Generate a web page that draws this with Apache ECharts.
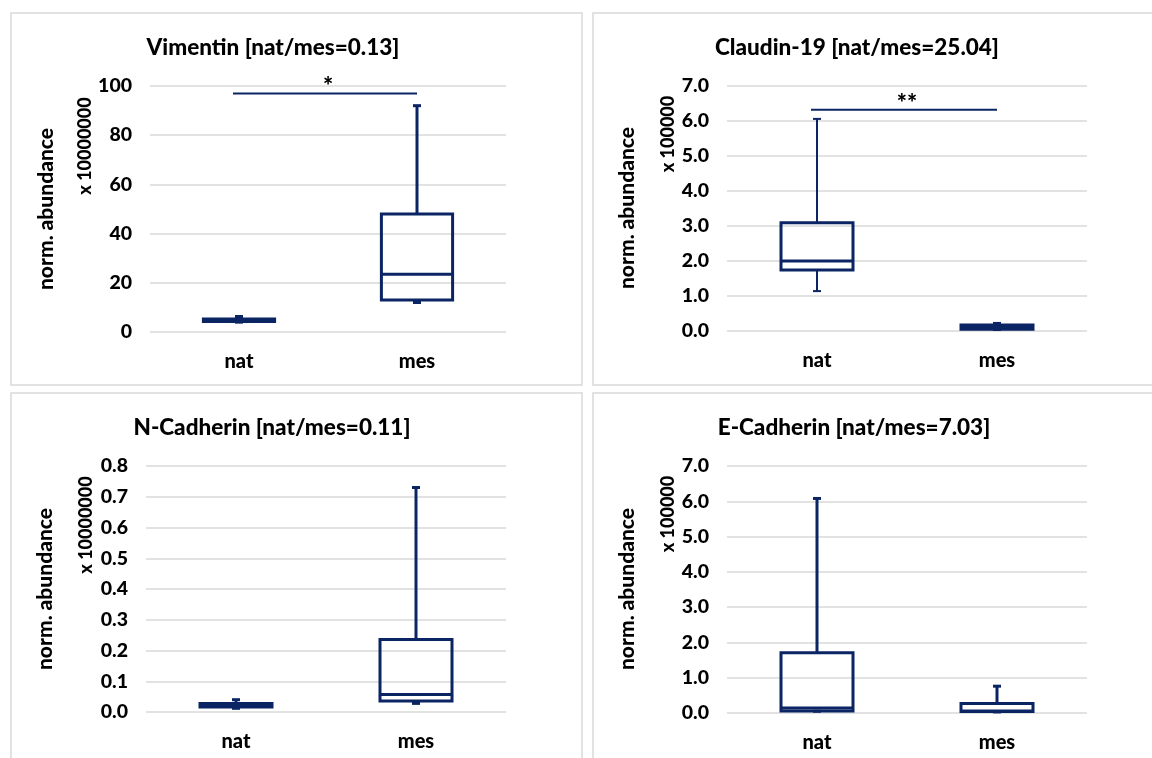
<!DOCTYPE html>
<html>
<head>
<meta charset="utf-8">
<script src="https://cdn.jsdelivr.net/npm/echarts@6/dist/echarts.min.js"></script>
<style>html,body{margin:0;padding:0;background:#fff}#c{width:1152px;height:758px}</style>
</head>
<body>
<div id="c"></div>
<script>
// ---- data ----
const categories = ['nat', 'mes'];
const titles = ['Vimentin [nat/mes=0.13]', 'Claudin-19 [nat/mes=25.04]', 'N-Cadherin [nat/mes=0.11]', 'E-Cadherin [nat/mes=7.03]'];
// [min, Q1, median, Q3, max] per category
const vimentin  = [[4.0, 4.3, 4.8, 5.3, 6.3], [12, 13, 23.5, 48, 92]];
const claudin19 = [[1.14, 1.74, 2.0, 3.09, 6.06], [0.03, 0.05, 0.10, 0.17, 0.23]];
const nCadherin = [[0.012, 0.016, 0.022, 0.028, 0.040], [0.028, 0.036, 0.057, 0.236, 0.73]];
const eCadherin = [[0.05, 0.06, 0.14, 1.71, 6.08], [0.03, 0.04, 0.06, 0.27, 0.76]];
const yMax = [100, 7, 0.8, 7];
const yInterval = [20, 1, 0.1, 1];
const yDecimals = [0, 1, 1, 1];
const yScaleLabels = ['x 10000000', 'x 100000', 'x 10000000', 'x 100000'];
const yNameLabel = 'norm. abundance';
// significance bars: [panel, y value, label]
const significance = [[0, 97, '*'], [1, 6.32, '**']];

// ---- layout / style ----
const COLOR = '#0b2463';
const FONT = 'Lato, Carlito, "Open Sans", sans-serif';
const W = 900;
const panels = [vimentin, claudin19, nCadherin, eCadherin];
const grids = [
  {left: 150, top: 86, width: 356, height: 246},
  {left: 727, top: 86, width: 360, height: 245},
  {left: 146, top: 466, width: 360, height: 246},
  {left: 727, top: 466, width: 360, height: 247}
];
const titlePos = [[268, 31], [852, 31], [267, 411], [849, 411]];
const namePos = [
  {n: [46, 209], s: [85, 146]},
  {n: [627, 208], s: [668, 134]},
  {n: [45, 589], s: [86, 525]},
  {n: [627, 589], s: [668, 514]}
];
const whiskerW = [3, 2, 3, 3];
const frames = [[11, 13, 571, 372], [593, 13, 570, 372], [11, 393, 571, 372], [593, 393, 570, 372]];

function boxRender(lw) {
  return function (params, api) {
    const i = api.value(0);
    const lo = api.coord([i, api.value(1)]);
    const q1 = api.coord([i, api.value(2)]);
    const md = api.coord([i, api.value(3)]);
    const q3 = api.coord([i, api.value(4)]);
    const hi = api.coord([i, api.value(5)]);
    const bw = api.size([1, 0])[0] * 0.4;
    const cx = lo[0];
    const cap = 4;
    const ls = {stroke: COLOR, lineWidth: lw, fill: null};
    const bs = {stroke: COLOR, lineWidth: 3, fill: null};
    return {
      type: 'group',
      children: [
        {type: 'line', shape: {x1: cx, y1: q3[1], x2: cx, y2: hi[1]}, style: ls},
        {type: 'line', shape: {x1: cx - cap, y1: hi[1], x2: cx + cap, y2: hi[1]}, style: ls},
        {type: 'line', shape: {x1: cx, y1: q1[1], x2: cx, y2: lo[1]}, style: ls},
        {type: 'line', shape: {x1: cx - cap, y1: lo[1], x2: cx + cap, y2: lo[1]}, style: ls},
        {type: 'rect', shape: {x: cx - bw / 2, y: q3[1], width: bw, height: q1[1] - q3[1]}, style: bs},
        {type: 'line', shape: {x1: cx - bw / 2, y1: md[1], x2: cx + bw / 2, y2: md[1]}, style: bs}
      ]
    };
  };
}

function sigRender(params, api) {
  const y = api.value(1);
  const a = api.coord([0, y]);
  const b = api.coord([1, y]);
  return {
    type: 'group',
    children: [
      {type: 'line', shape: {x1: a[0] - 6, y1: a[1], x2: b[0], y2: b[1]}, style: {stroke: COLOR, lineWidth: 2}},
      {type: 'text', x: (a[0] + b[0]) / 2, y: a[1] - 6, style: {text: api.value(2), fill: '#000', font: W + ' 24px ' + FONT, align: 'center', verticalAlign: 'middle'}}
    ]
  };
}

const option = {
  backgroundColor: '#fff',
  animation: false,
  title: titles.map((t, k) => ({
    text: t, left: titlePos[k][0], top: titlePos[k][1], textAlign: 'center',
    textStyle: {fontFamily: FONT, fontWeight: W, fontSize: 22.5, color: '#000'}
  })),
  grid: grids,
  xAxis: grids.map((g, k) => ({
    type: 'category', gridIndex: k, data: categories,
    axisLine: {show: false}, axisTick: {show: false},
    axisLabel: {fontFamily: FONT, fontWeight: W, fontSize: 20, color: '#000', margin: 20}
  })),
  yAxis: grids.map((g, k) => ({
    type: 'value', gridIndex: k, min: 0, max: yMax[k], interval: yInterval[k],
    axisLine: {show: false}, axisTick: {show: false},
    splitLine: {lineStyle: {color: '#d9d9d9', width: 1.5}},
    axisLabel: {fontFamily: FONT, fontWeight: W, fontSize: 19.5, color: '#000', margin: 18,
      formatter: v => v.toFixed(yDecimals[k])}
  })),
  series: panels.map((p, k) => ({
    type: 'custom', xAxisIndex: k, yAxisIndex: k,
    renderItem: boxRender(whiskerW[k]),
    data: p.map((d, i) => [i].concat(d)),
    z: 3
  })).concat(significance.map(s => ({
    type: 'custom', xAxisIndex: s[0], yAxisIndex: s[0],
    renderItem: sigRender, data: [[0, s[1], s[2]]], z: 4
  }))),
  graphic: frames.map(f => ({
    type: 'rect', shape: {x: f[0], y: f[1], width: f[2], height: f[3]},
    style: {fill: null, stroke: '#d9d9d9', lineWidth: 1.5}, z: 0, silent: true
  })).concat(namePos.flatMap((p, k) => [
    {type: 'text', x: p.n[0], y: p.n[1], rotation: Math.PI / 2,
      style: {text: yNameLabel, font: W + ' 21px ' + FONT, fill: '#000', align: 'center', verticalAlign: 'middle'}},
    {type: 'text', x: p.s[0], y: p.s[1], rotation: Math.PI / 2,
      style: {text: yScaleLabels[k], font: W + ' 18px ' + FONT, fill: '#000', align: 'center', verticalAlign: 'middle'}}
  ]))
};

const chart = echarts.init(document.getElementById('c'), null, {renderer: 'canvas'});
chart.setOption(option);
</script>
</body>
</html>
